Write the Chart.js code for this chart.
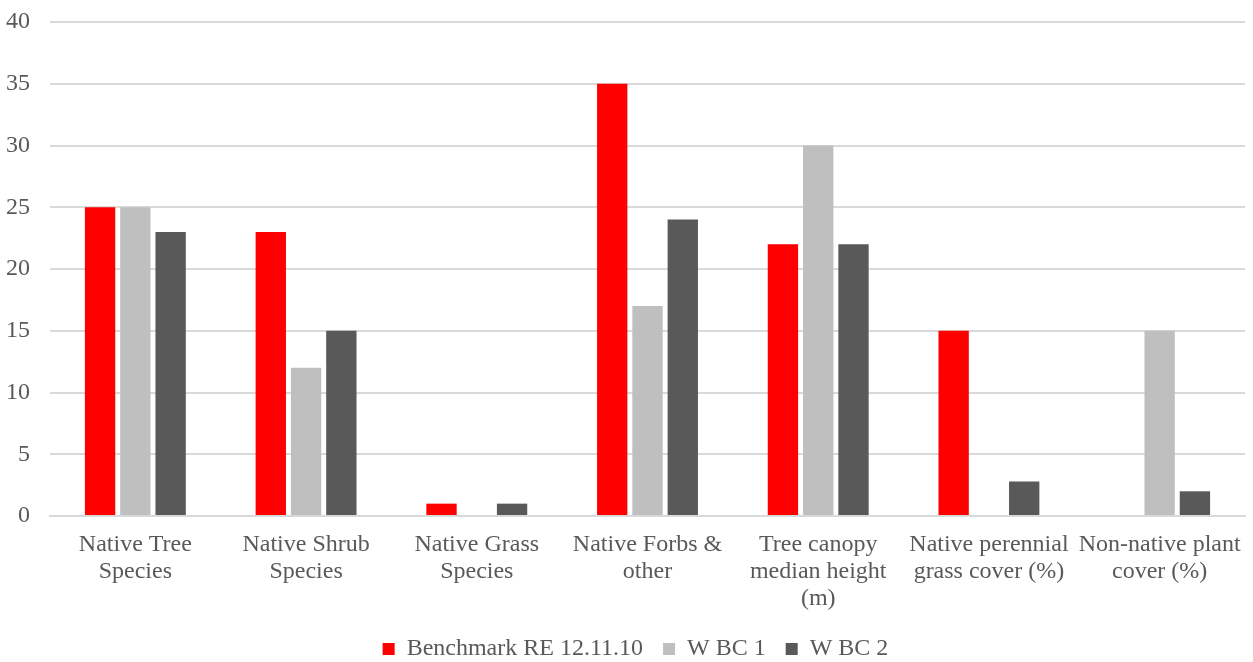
<!DOCTYPE html>
<html>
<head>
<meta charset="utf-8">
<script src="https://cdn.jsdelivr.net/npm/chart.js@4/dist/chart.umd.min.js"></script>
<style>
  html, body { margin: 0; padding: 0; background: #fff; }
  #wrap { width: 1253px; height: 662px; }
</style>
</head>
<body>
<div id="wrap"><canvas id="myChart"></canvas></div>
<script>
const categories = [
    ['Native Tree', 'Species'],
    ['Native Shrub', 'Species'],
    ['Native Grass', 'Species'],
    ['Native Forbs &', 'other'],
    ['Tree canopy', 'median height', '(m)'],
    ['Native perennial', 'grass cover (%)'],
    ['Non-native plant', 'cover (%)']
];
const benchmark = [25, 23, 1, 35, 22, 15, 0];
const wbc1 = [25, 12, 0, 17, 30, 0, 15];
const wbc2 = [23, 15, 1, 24, 22, 2.8, 2];
const yTicks = [0, 5, 10, 15, 20, 25, 30, 35, 40];

const textColor = '#595959';
const serif = "'Liberation Serif', 'Times New Roman', serif";
const axisFont = { family: serif, size: 24, lineHeight: 1.125 };
const legendFont = { family: serif, size: 24 };

function series(label, data, color) {
    return {
        label: label,
        data: data,
        backgroundColor: color,
        categoryPercentage: 0.62,
        barPercentage: 0.86
    };
}

// nudge the legend a little to the right of the canvas centre
const legendOffset = {
    id: 'legendOffset',
    afterLayout: function (chart) {
        chart.legend.left += 13;
        chart.legend.right += 13;
    }
};

const ctx = document.getElementById('myChart').getContext('2d');
new Chart(ctx, {
    type: 'bar',
    data: {
        labels: categories,
        datasets: [
            series('Benchmark RE 12.11.10', benchmark, '#ff0000'),
            series('W BC 1', wbc1, '#bfbfbf'),
            series('W BC 2', wbc2, '#595959')
        ]
    },
    plugins: [legendOffset],
    options: {
        responsive: true,
        maintainAspectRatio: false,
        animation: false,
        layout: { padding: { top: 0, right: 8, left: 0, bottom: -9 } },
        plugins: {
            legend: {
                position: 'bottom',
                labels: {
                    color: textColor,
                    font: legendFont,
                    boxWidth: 12,
                    boxHeight: 12,
                    padding: 20
                }
            },
            tooltip: { enabled: false }
        },
        scales: {
            x: {
                // fixed height so the three-line label fits above the legend
                afterFit: function (axis) { axis.height = 101; },
                grid: { display: false },
                border: { color: '#d9d9d9', width: 2 },
                ticks: {
                    color: textColor,
                    font: axisFont,
                    maxRotation: 0,
                    autoSkip: false,
                    padding: 7
                }
            },
            y: {
                min: 0,
                max: 40,
                afterBuildTicks: function (axis) {
                    axis.ticks = yTicks.map(function (v) { return { value: v }; });
                },
                afterFit: function (axis) {
                    axis.width = 50;
                    axis.paddingTop = 22;
                    axis.paddingBottom = 14;
                },
                grid: { color: '#d9d9d9', lineWidth: 2, drawTicks: false },
                border: { display: false },
                ticks: { color: textColor, font: axisFont, padding: 20 }
            }
        }
    }
});
</script>
</body>
</html>
